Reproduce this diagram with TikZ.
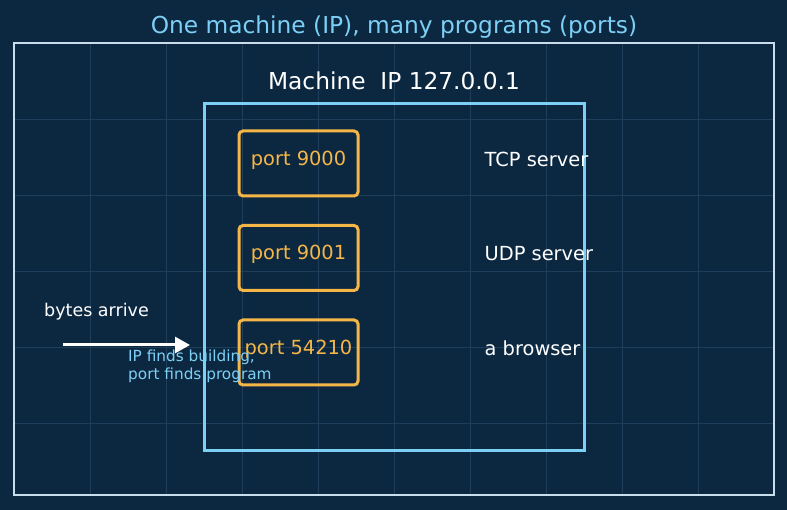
\documentclass[tikz,border=0pt]{standalone}
\usepackage{fontspec}
\setmainfont{DejaVu Sans}
\usetikzlibrary{positioning,arrows.meta}

\definecolor{bgnavy}{RGB}{12,40,65}
\definecolor{gridblue}{RGB}{30,62,92}
\definecolor{framegray}{RGB}{200,222,238}
\definecolor{skyline}{RGB}{125,208,245}
\definecolor{portorange}{RGB}{245,182,72}

\begin{document}
\begin{tikzpicture}[x=1pt,y=-1pt,>={Triangle[length=15pt,width=16pt]},node distance=26.5pt,
		gridline/.style={draw=gridblue,line width=0.8pt},
		outerframe/.style={draw=framegray,line width=1.8pt},
		machinebox/.style={draw=skyline,line width=3pt,minimum width=380pt,minimum height=346pt,inner sep=0pt},
		portbox/.style={draw=portorange,line width=3pt,rounded corners=4pt,minimum width=119pt,minimum height=65pt,inner sep=0pt},
		porttext/.style={text=portorange,font=\fontsize{19.4}{23}\selectfont,inner sep=0pt,yshift=3.5pt},
		progtext/.style={text=white,font=\fontsize{19.4}{23}\selectfont,inner sep=0pt,yshift=4.5pt},
		headtext/.style={font=\fontsize{23.3}{27}\selectfont,inner sep=0pt},
		flow/.style={draw=white,line width=3pt}]
	\useasboundingbox[fill=bgnavy] (0,0) rectangle (787,510);
	% grid
	\foreach \x in {90,166,...,698} \draw[gridline] (\x,43) -- (\x,495);
	\foreach \y in {119,195,...,423} \draw[gridline] (14,\y) -- (774,\y);
	\draw[outerframe] (14,43) rectangle (774,495);

	\node[headtext,text=skyline] (title) at (394,27) {One machine (IP), many programs (ports)};
	\node[machinebox] (machine) at (394,277) {};
	\node[headtext,text=white] [above=12pt of machine] (machinelbl) {Machine\ \ IP 127.0.0.1};

	\node[portbox,label={[porttext]center:port 9000}] (p9000) at (298.5,163.5) {};
	\node[portbox,label={[porttext]center:port 9001}] [below=of p9000] (p9001) {};
	\node[portbox,label={[porttext]center:port 54210}] [below=of p9001] (p54210) {};

	\node[progtext] [right=125pt of p9000] (tcp) {TCP server};
	\node[progtext] [right=125pt of p9001] (udp) {UDP server};
	\node[progtext] [right=125pt of p54210] (browser) {a browser};

	\node[text=white,font=\fontsize{17.5}{21}\selectfont,anchor=west,inner sep=0pt] (bytes) at (44,312) {bytes arrive};
	\coordinate (src) at (63,345);
	\coordinate (dst) at (190,345);
	\draw[flow,->] (src) -- (dst);
	\node[text=skyline,font=\fontsize{15.3}{17.5}\selectfont,align=left,anchor=north west,inner sep=0pt] (note) at (128,350) {IP finds building,\\port finds program};
\end{tikzpicture}
\end{document}
